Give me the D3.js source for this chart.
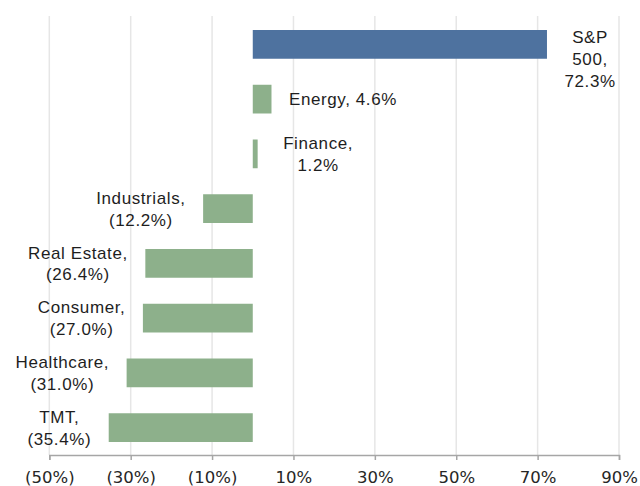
<!DOCTYPE html>
<html>
<head>
<meta charset="utf-8">
<script src="https://cdn.jsdelivr.net/npm/d3@7"></script>
<style>
  html, body { margin: 0; padding: 0; background: #ffffff; }
  svg { display: block; }
</style>
</head>
<body>
<svg id="chart" width="640" height="486"></svg>
<script>
// ---- data ----
const categories = ["S&P 500", "Energy", "Finance", "Industrials", "Real Estate", "Consumer", "Healthcare", "TMT"];
const values = [72.3, 4.6, 1.2, -12.2, -26.4, -27.0, -31.0, -35.4];
const seriesKind = ["index", "sector", "sector", "sector", "sector", "sector", "sector", "sector"];
const tickValues = [-50, -30, -10, 10, 30, 50, 70, 90];
const tickLabels = ["(50%)", "(30%)", "(10%)", "10%", "30%", "50%", "70%", "90%"];

// ---- layout ----
const W = 640, H = 486;
const plot = { left: 49.3, right: 619, top: 17, bottom: 455 };
const colors = { index: "#4e729f", sector: "#8db08b" };
const labelFont = "'Liberation Sans', Arial, sans-serif";
const tickFont = "'DejaVu Sans', sans-serif";
const labelSize = 17, lineH = 21.7;

const svg = d3.select("#chart");

const x = d3.scaleLinear().domain([-50, 90]).range([plot.left, plot.right]);
const y = d3.scaleBand().domain(categories).range([plot.top, plot.bottom])
  .paddingInner(0.475).paddingOuter(0.2375);

// gridlines
svg.append("g").selectAll("line").data(tickValues).join("line")
  .attr("x1", d => x(d)).attr("x2", d => x(d))
  .attr("y1", 16).attr("y2", plot.bottom)
  .attr("stroke", "#e6e6e6").attr("stroke-width", 1.5);

// bars
const rows = categories.map((c, i) => ({ c, v: values[i], k: seriesKind[i] }));
svg.append("g").selectAll("rect").data(rows).join("rect")
  .attr("x", d => Math.min(x(0), x(d.v)))
  .attr("width", d => Math.abs(x(d.v) - x(0)))
  .attr("y", d => y(d.c))
  .attr("height", y.bandwidth())
  .attr("fill", d => colors[d.k]);

// axis
const axis = d3.axisBottom(x).tickValues(tickValues)
  .tickFormat((d, i) => tickLabels[i]).tickSize(5).tickSizeOuter(5).tickPadding(11.5);
const gAxis = svg.append("g").attr("transform", `translate(0,${plot.bottom})`).call(axis);
gAxis.select(".domain").attr("stroke", "#a6a6a6").attr("stroke-width", 1.5);
gAxis.selectAll(".tick line").attr("stroke", "#a6a6a6").attr("stroke-width", 1.5);
gAxis.selectAll(".tick text").attr("fill", "#262626")
  .style("font-family", tickFont).style("font-size", "16.5px");

// data labels
function fmt(v) {
  const s = Math.abs(v).toFixed(1) + "%";
  return v < 0 ? "(" + s + ")" : s;
}
function lines(d) {
  if (d.k === "index") return [...d.c.split(" ").map((w, i, a) => i === a.length - 1 ? w + "," : w), fmt(d.v)];
  if (d.c === "Energy") return [d.c + ", " + fmt(d.v)];
  return [d.c + ",", fmt(d.v)];
}
const nudge = { "Finance": 8 };
const gap = 17.5, rightLimit = 616, topLimit = plot.top + 20;

rows.forEach(d => {
  const ls = lines(d);
  const g = svg.append("g");
  const texts = ls.map(t => g.append("text").text(t)
    .attr("fill", "#1e1e1e")
    .attr("text-anchor", "middle")
    .style("font-family", labelFont)
    .style("font-size", labelSize + "px")
    .style("letter-spacing", "0.6px"));
  const wMax = d3.max(texts, t => t.node().getComputedTextLength());
  let cx;
  if (d.v >= 0) {
    let left = x(d.v) + gap + (nudge[d.c] || 0);
    if (left + wMax > rightLimit) left = rightLimit - wMax;
    cx = left + wMax / 2;
  } else {
    cx = x(d.v) - gap - wMax / 2;
  }
  const yc = y(d.c) + y.bandwidth() / 2;
  let firstY = yc - (ls.length - 1) * lineH / 2;
  if (firstY < topLimit) firstY = topLimit;
  texts.forEach((t, i) => t.attr("x", cx).attr("y", firstY + i * lineH).attr("dy", "0.36em"));
});
</script>
</body>
</html>
